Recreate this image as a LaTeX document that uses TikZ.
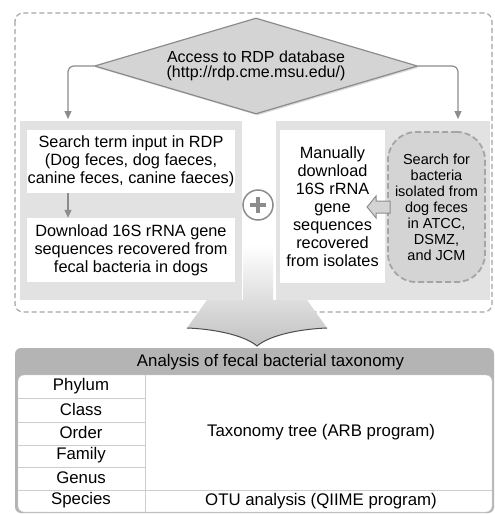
\documentclass[tikz,border=0pt]{standalone}
\usepackage{fontspec}
\setmainfont{Liberation Sans}
\usepackage{tikz}
\usetikzlibrary{shapes.geometric, arrows.meta, positioning, calc, shadows}
\definecolor{panelgray}{RGB}{226, 226, 226}
\definecolor{boxgray}{RGB}{212, 212, 212}
\definecolor{edgegray}{RGB}{140, 140, 140}
\definecolor{dashgray}{RGB}{165, 165, 165}
\definecolor{headgray}{RGB}{180, 180, 180}
\definecolor{rulegray}{RGB}{205, 205, 205}

\begin{document}
\begin{tikzpicture}[x=1pt, y=-1pt,
  every node/.style={font=\fontsize{16.3}{18}\selectfont, align=center, inner sep=0pt},
  panel/.style={fill=panelgray, minimum width=222, minimum height=179},
  whitebox/.style={fill=white},
  flow/.style={edgegray, line width=1.2pt, rounded corners=6, -{Triangle[width=7pt, length=8pt]}},
  rowline/.style={rulegray, line width=0.8pt},
  tabletext/.style={font=\fontsize{16.8}{18}\selectfont}
]
  \useasboundingbox (0, 0) rectangle (495, 514);

  % Retrieval part
  \draw[dashgray, line width=1.2pt, dash pattern=on 5pt off 3pt, rounded corners=8] (15, 13) rectangle (492, 312);
  \node[panel] (leftpanel) at (131, 210.5) {};
  \node[panel, minimum width=214] (rightpanel) at (383, 210.5) {};

  % Big arrow down to the analysis
  \shade[top color=white, bottom color=black!24] (243, 245) -- (273, 245) -- (273, 300) -- (307, 300) -- (327, 328)
    .. controls (300, 329) and (270, 335) .. (257, 346)
    .. controls (244, 335) and (214, 329) .. (187, 328) -- (207, 300) -- (243, 300) -- cycle;
  \draw[black!70, line width=1pt] (187, 328) .. controls (214, 329) and (244, 335) .. (257, 346)
    .. controls (270, 335) and (300, 329) .. (327, 328);

  \node[diamond, draw=edgegray, fill=boxgray, line width=1.2pt, shape aspect=3.4, minimum width=323, minimum height=96,
    drop shadow={opacity=0.3, shadow xshift=1.5pt, shadow yshift=-1.5pt},
    font=\fontsize{16}{15.5}\selectfont] (access) at (256, 66) {Access to RDP database\\(http://rdp.cme.msu.edu/)};

  \node[whitebox, minimum width=208, minimum height=63] (search) at (131, 161.5)
    {Search term input in RDP\\(Dog feces, dog faeces,\\canine feces, canine faeces)};
  \node[whitebox, minimum width=208, minimum height=64] (download) at (131, 250)
    {Download 16S rRNA gene\\sequences recovered from\\fecal bacteria in dogs};
  \node[whitebox, minimum width=105, minimum height=153] (manual) at (332.5, 206.5)
    {Manually\\download\\16S rRNA\\gene\\sequences\\recovered\\from isolates};
  \node[fill=boxgray, draw=dashgray, line width=1.8pt, dash pattern=on 6pt off 3pt, rounded corners=28,
    minimum width=97, minimum height=150, font=\fontsize{14.5}{16}\selectfont] (isolates) at (436.5, 207)
    {Search for\\bacteria\\isolated from\\dog feces\\in ATCC,\\DSMZ,\\and JCM};
  \draw[edgegray, fill=boxgray, line width=1pt] (isolates.west) ++(3, -6) -- ++(-14, 0) -- ++(0, -5)
    -- ++(-9, 11) -- ++(9, 11) -- ++(0, -5) -- ++(14, 0) -- cycle;

  \node[circle, draw=edgegray, fill=white, line width=1.5pt, minimum size=30] (plus) at (258, 205) {};
  \draw[edgegray, line width=4pt] ($(plus.center)+(-8, 0)$) -- ($(plus.center)+(8, 0)$);
  \draw[edgegray, line width=4pt] ($(plus.center)+(0, -8)$) -- ($(plus.center)+(0, 8)$);

  \coordinate (leftdrop) at (68, 119);
  \coordinate (rightdrop) at (458, 119);
  \draw[flow] (access.west) -| (leftdrop);
  \draw[flow] (access.east) -| (rightdrop);
  \draw[flow] (search.south -| leftdrop) -- (download.north -| leftdrop);

  % Analysis table
  \fill[headgray, rounded corners=6] (15, 348) rectangle (494, 513);
  \node[tabletext] (header) at (270.5, 362) {Analysis of fecal bacterial taxonomy};
  \draw[rulegray, fill=white, rounded corners=6] (18, 375) rectangle (492, 512);
  \foreach \y in {398, 422, 445, 467}
    \draw[rowline] (18, \y) -- (145, \y);
  \draw[rowline] (18, 490) -- (492, 490);
  \draw[rowline] (145, 375) -- (145, 512);
  \foreach \rank [count=\i] in {Phylum, Class, Order, Family, Genus, Species}
    \node[tabletext] (rank\i) at (81, {375 + 22.8*\i - 11.4}) {\rank};
  \node[tabletext] (taxtree) at (321, 432.5) {Taxonomy tree (ARB program)};
  \node[tabletext] (otu) at (321, 501) {OTU analysis (QIIME program)};
\end{tikzpicture}
\end{document}
